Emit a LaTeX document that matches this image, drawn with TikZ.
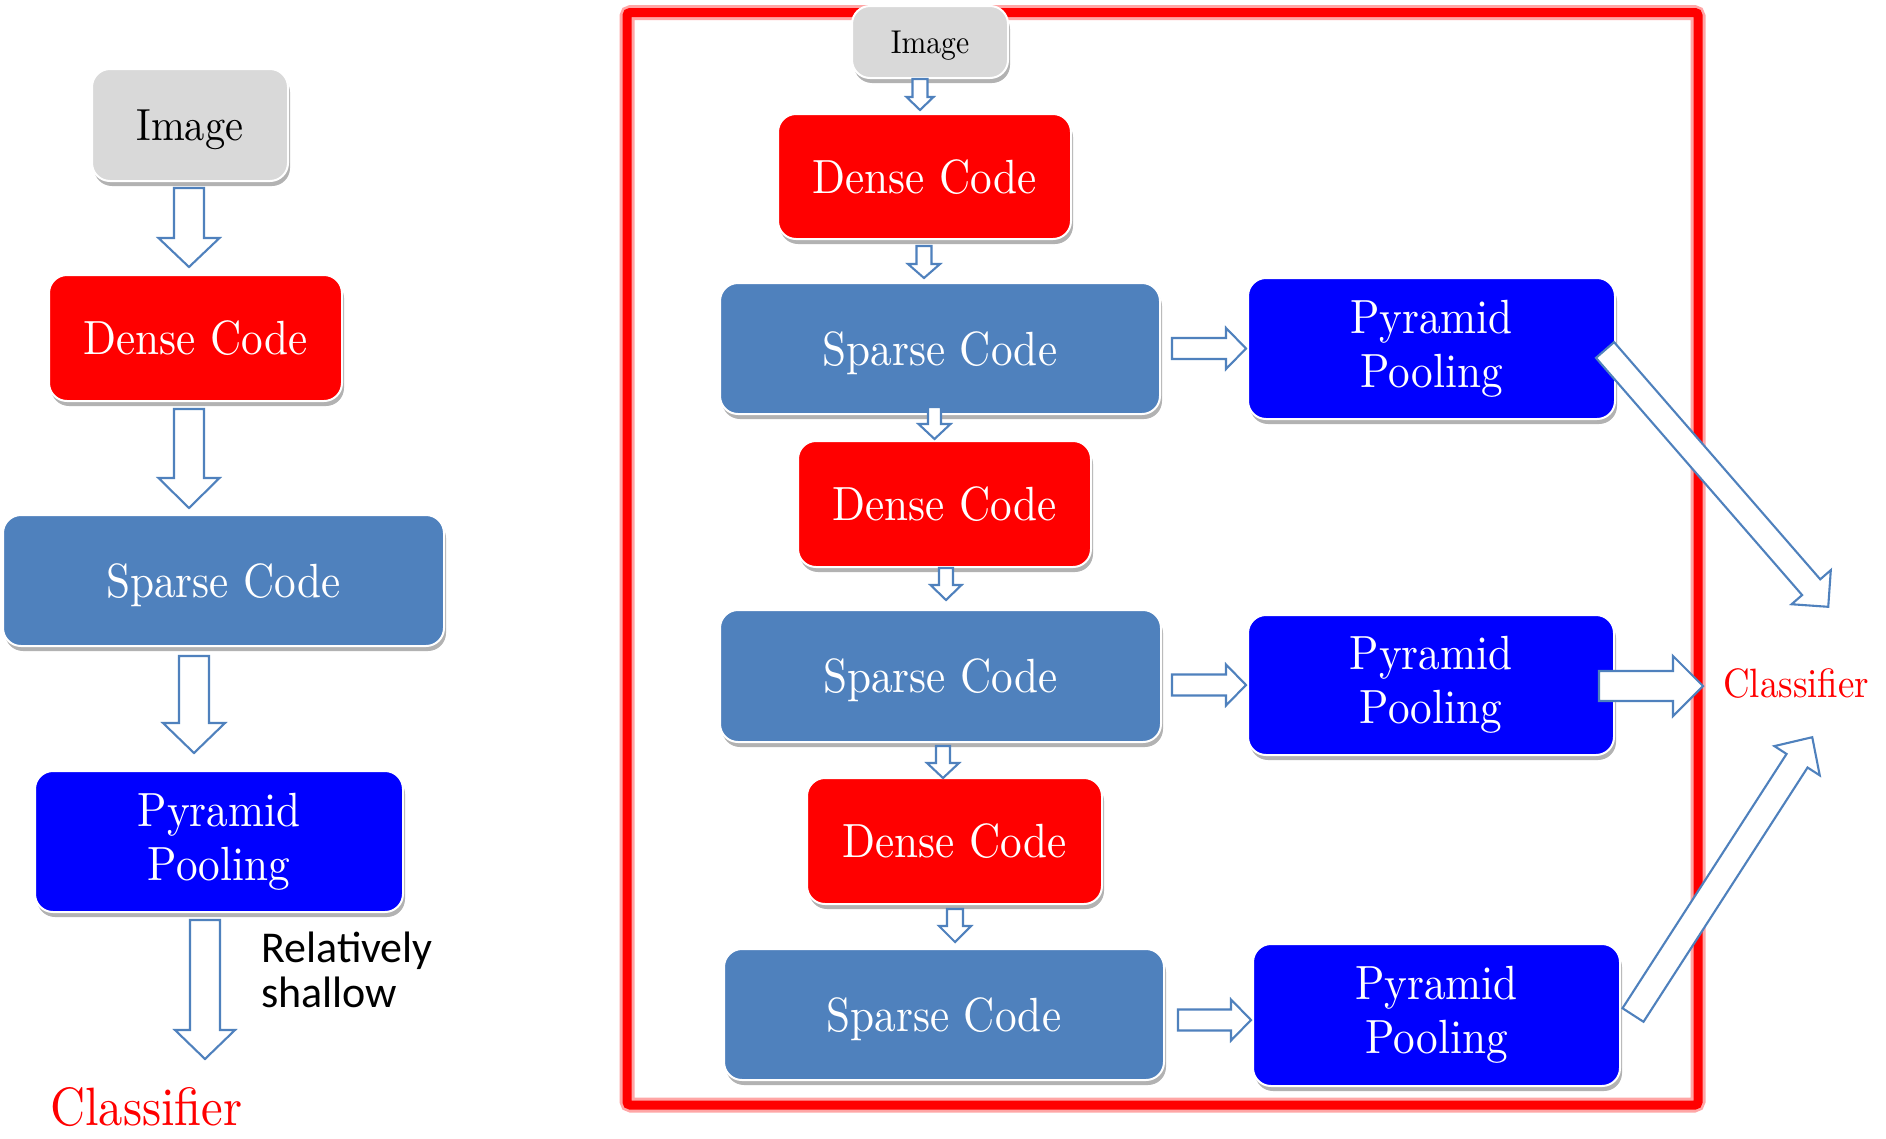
\documentclass[tikz,border=0pt]{standalone}
\usepackage{fontspec}
\usetikzlibrary{calc,shadows}
\newfontfamily\garfont{lmroman10-regular.otf}[FakeStretch=0.9]
\newfontfamily\calfont{Carlito}
\definecolor{imggray}{RGB}{217,217,217}
\definecolor{densered}{RGB}{255,0,0}
\definecolor{sparseblue}{RGB}{79,129,189}
\definecolor{poolblue}{RGB}{0,0,255}
\definecolor{arrowline}{RGB}{79,129,189}
\tikzset{
  box/.style={rounded corners=18pt, draw=white, line width=2pt, inner sep=0pt,
    text=white, font=\garfont\fontsize{48}{54}\selectfont, align=center,
    drop shadow={shadow xshift=2pt, shadow yshift=-5pt, opacity=0.3, fill=black}},
  one/.style={text height=33pt, text depth=0pt},
  imgbox/.style={box, fill=imggray, text=black},
  densebox/.style={box, one, fill=densered},
  sparsebox/.style={box, one, fill=sparseblue},
  poolbox/.style={box, fill=poolblue},
  blockarrow/.style={draw=arrowline, fill=white, line width=2.1pt, line join=miter},
  clsfont/.style={text=red, inner sep=0pt},
}
% block arrow: [opts]{tail}{tip}{half shaft}{half head}{head length}
\newcommand\blockarr[6][]{%
  \coordinate (bT) at #2;
  \coordinate (bP) at #3;
  \coordinate (bH) at ($(bP)!#6!(bT)$);
  \draw[blockarrow,#1] ($(bT)!#4!90:(bP)$) -- ($(bH)!#4!-90:(bT)$) -- ($(bH)!#5!-90:(bT)$)
    -- (bP) -- ($(bH)!#5!90:(bT)$) -- ($(bH)!#4!90:(bT)$) -- ($(bT)!#4!-90:(bP)$) -- cycle;
}
\begin{document}
\begin{tikzpicture}[x=1pt,y=-1pt]
\fill[white] (0,0) rectangle (1886,1138);
\useasboundingbox (0,0) rectangle (1886,1138);

% red frame
\draw[red!35, line width=15pt, rounded corners=4pt] (627,12.5) rectangle (1698,1105);
\draw[red, line width=9pt, rounded corners=3pt] (627,12.5) rectangle (1698,1105);

% ---------- left column ----------
\node[imgbox, minimum width=196pt, minimum height=112pt, text height=31pt, text depth=0pt,
  font=\garfont\fontsize{45}{50}\selectfont] (limg) at (190,125) {Image};
\node[densebox, minimum width=293pt, minimum height=126pt] (ldc) at (195.5,338) {Dense Code};
\node[sparsebox, minimum width=441pt, minimum height=131pt] (lsc) at (223.5,580.5) {Sparse Code};
\node[poolbox, minimum width=368pt, minimum height=141pt] (lpp) at (219,841.5) {Pyramid\\Pooling};
\node[clsfont, anchor=base west, text depth=0pt, font=\garfont\fontsize{54}{58}\selectfont] (lcls) at (50,1125) {Classifier};
\node[anchor=base west, align=left, inner sep=0pt, font=\calfont\fontsize{44}{45}\selectfont] (lrel) at (261,1007) {Relatively\\shallow};
\coordinate (lclsin) at (205,1059);

% ---------- right part ----------
\node[imgbox, minimum width=156pt, minimum height=72pt, text height=22.5pt, text depth=0pt,
  font=\garfont\fontsize{33}{36}\selectfont] (rimg) at (930,42) {Image};
\node[densebox, minimum width=293pt, minimum height=125pt] (rdc1) at (924.5,176.5) {Dense Code};
\node[sparsebox, minimum width=440pt, minimum height=131pt] (rsc1) at (940,348.5) {Sparse Code};
\node[poolbox, minimum width=367pt, minimum height=141pt] (rpp1) at (1431.5,348.5) {Pyramid\\Pooling};
\node[densebox, minimum width=293pt, minimum height=126pt] (rdc2) at (944.5,504) {Dense Code};
\node[sparsebox, minimum width=441pt, minimum height=132pt] (rsc2) at (940.5,676) {Sparse Code};
\node[poolbox, minimum width=366pt, minimum height=140pt] (rpp2) at (1431,685) {Pyramid\\Pooling};
\node[densebox, minimum width=295pt, minimum height=126pt] (rdc3) at (954.5,841) {Dense Code};
\node[sparsebox, minimum width=440pt, minimum height=131pt] (rsc3) at (944,1014.5) {Sparse Code};
\node[poolbox, minimum width=367pt, minimum height=142pt] (rpp3) at (1436.5,1015) {Pyramid\\Pooling};
\node[clsfont, anchor=west, text height=28pt, text depth=0pt, font=\garfont\fontsize{41}{45}\selectfont] (rcls) at (1723,683) {Classifier};

% ---------- left arrows ----------
\blockarr{($(limg.south)+(-1,6)$)}{($(ldc.north)+(-6.5,-7)$)}{15pt}{30.5pt}{29pt}
\blockarr{($(ldc.south)+(-6.5,7)$)}{($(lsc.north)+(-34.5,-6)$)}{15pt}{30.5pt}{30pt}
\blockarr{($(lsc.south)+(-29.5,9)$)}{($(lpp.north)+(-25,-17)$)}{15pt}{31pt}{30pt}
\blockarr{($(lpp.south)+(-14,7)$)}{(lclsin)}{15pt}{30pt}{29pt}

% ---------- right vertical arrows ----------
\blockarr{($(rimg.south)+(-10,0)$)}{($(rdc1.north)+(-4.5,-3)$)}{7.5pt}{13.5pt}{13pt}
\blockarr{($(rdc1.south)+(-0.5,6)$)}{($(rsc1.north)+(-16,-4)$)}{7.5pt}{16pt}{14pt}
\blockarr{($(rsc1.south)+(-5.5,-8)$)}{($(rdc2.north)+(-10,-1)$)}{6.5pt}{16pt}{15pt}
\blockarr{($(rdc2.south)+(1.5,0)$)}{($(rsc2.north)+(5.5,-9)$)}{7pt}{15.5pt}{15pt}
\blockarr{($(rsc2.south)+(2.5,3)$)}{($(rdc3.north)+(-11.5,1)$)}{7pt}{16pt}{15pt}
\blockarr{($(rdc3.south)+(0.5,4)$)}{($(rsc3.north)+(11,-6)$)}{8pt}{16pt}{16pt}

% ---------- right horizontal arrows ----------
\blockarr{($(rsc1.east)+(11,0)$)}{($(rpp1.west)+(-1,0)$)}{10.5pt}{20.5pt}{20pt}
\blockarr{($(rsc2.east)+(10,9)$)}{($(rpp2.west)+(-1,0)$)}{10.5pt}{20.5pt}{20pt}
\blockarr{($(rsc3.east)+(13,5.5)$)}{($(rpp3.west)+(-1,5)$)}{10.5pt}{20.5pt}{20pt}

% ---------- to the classifier ----------
\blockarr{($(rpp2.east)+(-16,1)$)}{($(rcls.west)+(-20,3)$)}{15pt}{30pt}{30pt}
\blockarr{($(rpp1.east)+(-11,1.5)$)}{($(rcls.north)+(32,-62)$)}{12pt}{26pt}{26pt}
\blockarr{($(rpp3.east)+(12,0)$)}{($(rcls.south)+(16,40)$)}{12.5pt}{27pt}{28pt}
\end{tikzpicture}
\end{document}
